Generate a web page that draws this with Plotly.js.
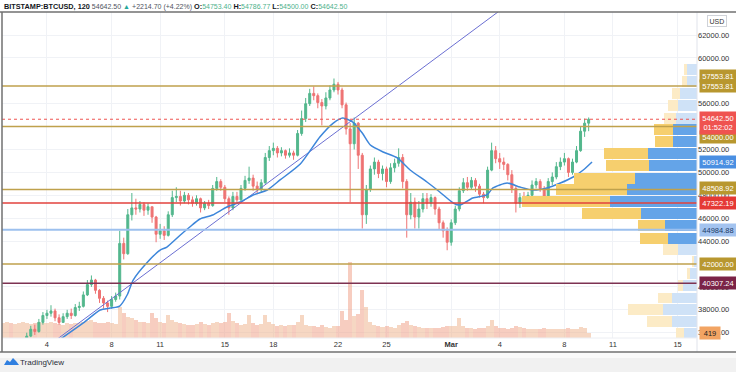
<!DOCTYPE html>
<html><head><meta charset="utf-8">
<script src="https://cdn.plot.ly/plotly-3.0.1.min.js"></script>
<style>html,body{margin:0;padding:0;background:#fff}#chart{width:736px;height:372px}</style>
</head><body><div id="chart"></div>
<script>
// ---------------- DATA ----------------
const symbol = 'BITSTAMP:BTCUSD, 120';
const lastPriceText = '54642.50';
const changeText = '+2214.70 (+4.22%)';
const ohlcLabels = ['O:', 'H:', 'L:', 'C:'];
const ohlcValues = ['54753.40', '54786.77', '54500.00', '54642.50'];
const countdownText = '01:52:02';
const currencyText = 'USD';

// 6-hour candles starting 2021-02-01 06:00 UTC
const candleStart = '2021-02-01T06:00:00Z';
const candleStepHours = 6;
const firstOpen = 33400;
const closes = [33600,33900,33700,34100,34600,35200,35700,36300,36100,36900,37500,
37700,37900,37300,36900,37400,37700,37500,38200,
38300,39300,40200,40600,39700,39000,38600,38300,
38900,39200,43800,42900,46300,46900,46800,47200,
46700,47000,46100,44600,44900,44500,46300,47800,
47900,47500,48000,47600,47300,47700,46900,47300,
47100,48600,49200,48700,47700,46900,47900,47600,
48600,49300,49500,48800,48500,49100,51300,51900,
52100,51700,51900,51500,51700,51500,53400,54700,
56000,56900,56700,56100,55800,56500,57200,57700,
57200,55900,53800,52500,54300,51500,46300,48500,
50300,50900,49900,50300,49200,50400,50800,51300,
49200,46300,47400,46100,46800,47700,47300,47800,
46800,45600,44900,43900,45600,46800,48400,49100,
48700,49300,48800,48100,47800,50200,51900,51200,
50900,50700,49800,48600,47300,47800,47500,48000,
48900,49200,48600,47900,49200,49600,50500,50900,
51200,50000,50900,51900,53600,54300,54642.5];
const highs = [34100,34300,34200,34400,34900,35500,36000,36600,36700,37200,37800,
38000,38400,38100,37600,37700,38000,38100,38500,
38700,39600,40600,41000,40700,39800,39200,38800,
39200,39500,44900,44300,46800,48200,47700,47500,
47400,47300,47000,46200,45500,45300,46600,48400,
48700,48400,48300,48200,47900,48000,47800,47500,
47600,48900,49600,49400,48900,47900,48300,48300,
48900,49700,50500,49800,49200,49400,51700,52300,
52600,52300,52200,52000,52100,51900,53700,55400,
56500,57300,57500,56900,56400,57000,57600,58200,
57900,57400,56100,54300,54800,54400,51700,48900,
50600,51300,51100,50600,50500,50800,51200,52100,
51600,49400,48200,47800,47500,48200,48200,48100,
47900,47000,45800,45200,45900,47100,48700,49500,
49600,49600,49500,49000,48300,50500,52600,52300,
51700,51300,50800,50200,48800,48200,48300,48300,
49300,49500,49400,48800,49500,50000,50900,51300,
51700,51300,51200,52300,54000,54700,54800];
const lows = [33200,33400,33300,33500,33900,34500,35100,35600,35800,36000,36700,
37200,37400,37000,36700,36900,37200,37200,37400,
37900,38200,39200,40000,39400,38600,38100,37800,
38100,38700,38900,42400,42800,45800,46300,46500,
46200,46300,45600,43900,44200,44100,44400,46100,
47400,47100,47300,47200,47000,47100,46500,46700,
46800,47000,48400,48400,47400,46300,46700,47300,
47500,48400,49000,48400,48100,48200,49000,51000,
51500,51300,51400,51200,51300,51100,51400,53200,
54400,55800,56300,55600,54100,55500,56300,57000,
56800,55600,53300,47400,52000,50300,45100,45500,
48300,49800,49500,49300,48700,49000,50000,50500,
48600,44300,45900,45100,45100,46500,46800,47000,
46300,45000,44300,43200,43600,45400,46600,48200,
48400,48500,48300,47800,47300,47700,50100,50800,
50300,50200,49300,48200,46500,46900,47100,47200,
47800,48600,48300,47200,47800,48900,49400,50200,
50600,49600,49800,50800,51800,53100,53600];
const volumes = [1250,1300,1200,1150,1250,1300,1200,1150,1250,1300,1200,
1250,1350,1200,1150,1100,1200,1150,1250,
1200,1350,1400,1500,1350,1200,1250,1300,
1200,1150,2550,2050,1700,1600,1450,1350,
1300,1250,2050,1600,1350,1250,1900,1500,
1300,1200,1150,1100,1050,1150,1300,1150,
1100,1250,1350,1200,1300,2050,1400,1200,
1100,1150,1900,1250,1100,1150,1900,1300,
1150,1000,1050,1000,1100,1050,1300,1900,
1100,1000,950,900,1100,900,850,950,
1000,2250,1500,6230,1800,2000,3940,2540,
1300,1100,950,900,1000,900,850,1100,
1200,1400,1100,950,900,850,800,800,
800,850,900,1000,950,1000,1640,1000,
850,800,750,800,850,1000,1480,1000,
850,800,750,850,950,900,800,750,
700,750,700,800,750,700,750,700,
750,800,700,750,900,800,419];

// moving average (blue line)
const maTimes = ['2021-02-04 09:00','2021-02-04 19:00','2021-02-06 06:00','2021-02-07 07:00','2021-02-07 22:00',
'2021-02-08 12:00','2021-02-08 23:00','2021-02-09 08:00','2021-02-10 04:00','2021-02-11 00:00',
'2021-02-11 10:00','2021-02-12 06:00','2021-02-12 20:00','2021-02-13 11:00','2021-02-14 06:00',
'2021-02-15 03:00','2021-02-15 23:00','2021-02-16 18:00','2021-02-17 15:00','2021-02-18 10:00',
'2021-02-19 16:00','2021-02-20 21:00','2021-02-21 17:00','2021-02-22 07:00','2021-02-22 22:00',
'2021-02-23 12:00','2021-02-24 00:00','2021-02-24 19:00','2021-02-25 16:00','2021-02-26 11:00',
'2021-02-27 12:00','2021-02-28 07:00','2021-03-01 03:00','2021-03-01 13:00','2021-03-02 08:00',
'2021-03-03 05:00','2021-03-03 14:00','2021-03-04 11:00','2021-03-05 06:00','2021-03-06 01:00',
'2021-03-06 22:00','2021-03-07 18:00','2021-03-08 13:00','2021-03-09 04:00','2021-03-09 17:00'];
const maValues = [35000,35400,36850,37980,38150,
38330,39290,40600,42090,43220,
43480,44530,45230,45930,46280,
46980,47410,48030,48460,49340,
50730,53090,54310,54750,54400,
53440,52390,51780,51260,50210,
49160,48290,47330,47150,47760,
48030,48640,49070,48720,48460,
48640,49070,49600,50210,50914.92];

// trend line anchors
const trendTimes = ['2021-02-04 00:00','2021-03-04 12:00'];
const trendPrices = [34773, 64650];

// horizontal levels
const levelValues = [57553.81, 54000, 48508.92, 42000, 47322.19, 44984.88, 40307.24];
const levelKinds  = ['gold','gold','gold','gold','red','lightblue','maroon'];

// volume profile (visible range)
const vpPrices = [35890,36940,37990,39030,40080,41130,42180,43230,44270,45320,46370,47420,
48470,49510,50560,51610,52660,53710,54750,55800,56850,57900,58950];
const vpUp   = [13,25,34,25,14,7,3,19,29,32,56,87,70,62,48,49,24,24,21,19,17,10,10];
const vpDown = [8,25,35,14,5,3,2,15,28,27,59,88,71,61,43,44,18,19,12,10,8,5,3];
const valueAreaLow = 43800, valueAreaHigh = 54200;

// price-scale ticks left visible (42000, 54000 and 58000 sit fully under coloured labels)
const priceTicks = [36000,38000,40000,44000,46000,48000,50000,52000,56000,60000,62000];
const timeTickVals = ['2021-02-04','2021-02-08','2021-02-11','2021-02-15','2021-02-18','2021-02-22',
'2021-02-25','2021-03-01','2021-03-04','2021-03-08','2021-03-11','2021-03-15'];
const timeTickText = ['4','8','11','15','18','22','25','<b>Mar</b>','4','8','11','15'];

// ---------------- DRAWING ----------------
const W=736, H=372, ML=2, MR=39, MT=12, MB=34;
const plotW = W-ML-MR, plotH = H-MT-MB;
const px2x = px => (px-ML)/plotW;
const py2y = py => (H-MB-py)/plotH;

const t0 = Date.parse(candleStart);
const candleTimes = closes.map((_, i) => new Date(t0 + i*candleStepHours*3600e3).toISOString().slice(0,16).replace('T',' '));
const opens = [firstOpen].concat(closes.slice(0, -1));

const GREEN = '#53b78d', RED = '#ee7373';
const FONT = 'Liberation Sans, Arial, sans-serif';

const volColors = closes.map((c,i) => c >= opens[i] ? 'rgba(238,176,135,0.5)' : 'rgba(240,155,130,0.5)');

const traces = [
  { type:'bar', x:candleTimes, y:volumes, xaxis:'x', yaxis:'y',
    marker:{color:volColors, line:{width:0}}, hoverinfo:'skip' },
  { type:'bar', orientation:'h', y:vpPrices, x:vpUp, xaxis:'x2', yaxis:'y2', width:960,
    marker:{color:vpPrices.map(p => (p>valueAreaLow && p<valueAreaHigh) ? '#64a4e8' : '#cfe2f7'), line:{width:0}}, hoverinfo:'skip' },
  { type:'bar', orientation:'h', y:vpPrices, x:vpDown, xaxis:'x2', yaxis:'y2', width:960,
    marker:{color:vpPrices.map(p => (p>valueAreaLow && p<valueAreaHigh) ? '#f6cf6e' : '#fcebc6'), line:{width:0}}, hoverinfo:'skip' },
  { type:'scatter', mode:'lines', x:trendTimes, y:trendPrices, xaxis:'x', yaxis:'y2',
    line:{color:'#6b6fd2', width:1}, hoverinfo:'skip' },
  { type:'scatter', mode:'lines', x:maTimes, y:maValues, xaxis:'x', yaxis:'y2',
    line:{color:'#3d86da', width:1.5, shape:'spline', smoothing:0.6}, hoverinfo:'skip' },
  { type:'candlestick', x:candleTimes, open:opens, high:highs, low:lows, close:closes, xaxis:'x', yaxis:'y2',
    increasing:{line:{color:GREEN, width:1}, fillcolor:GREEN},
    decreasing:{line:{color:RED, width:1}, fillcolor:RED},
    whiskerwidth:0, hoverinfo:'skip' }
];

const levelStyle = {
  gold:{color:'#bfa14c', width:1.5},
  red:{color:'#e2423c', width:1.5},
  lightblue:{color:'#9cc0ee', width:2},
  maroon:{color:'#7d3252', width:1.5}
};
const shapes = [];
shapes.push({type:'rect', xref:'paper', yref:'paper', x0:px2x(0), x1:px2x(736), y0:py2y(372), y1:py2y(353),
  fillcolor:'#f1f1f1', line:{width:0}, layer:'below'});
shapes.push({type:'rect', xref:'paper', yref:'paper', x0:px2x(0), x1:px2x(736), y0:py2y(358), y1:py2y(353),
  fillcolor:'#fafafa', line:{width:0}, layer:'below'});
levelValues.forEach((v,i) => {
  shapes.push({type:'line', xref:'paper', yref:'y2', x0:0, x1:1, y0:v, y1:v, line:levelStyle[levelKinds[i]], layer:'above'});
});
shapes.push({type:'line', xref:'paper', yref:'y2', x0:0, x1:1, y0:closes[closes.length-1], y1:closes[closes.length-1],
  line:{color:'#ef5350', width:1, dash:'dot'}, layer:'above'});
shapes.push({type:'line', xref:'paper', yref:'paper', x0:px2x(697), x1:px2x(697), y0:py2y(12), y1:py2y(352), line:{color:'#e0e3eb', width:1}});
shapes.push({type:'line', xref:'paper', yref:'paper', x0:px2x(2), x1:px2x(697), y0:py2y(338), y1:py2y(338), line:{color:'#eceef3', width:1}});
shapes.push({type:'line', xref:'paper', yref:'paper', x0:px2x(0), x1:px2x(736), y0:py2y(12), y1:py2y(12), line:{color:'#707070', width:1.5}});
shapes.push({type:'line', xref:'paper', yref:'paper', x0:px2x(0), x1:px2x(736), y0:py2y(352), y1:py2y(352), line:{color:'#707070', width:1.5}});
shapes.push({type:'line', xref:'paper', yref:'paper', x0:px2x(2), x1:px2x(2), y0:py2y(12), y1:py2y(352), line:{color:'#707070', width:1.5}});
shapes.push({type:'path', xref:'paper', yref:'paper', xsizemode:'pixel', ysizemode:'pixel',
  xanchor:px2x(4), yanchor:py2y(362),
  path:'M 0 -3 L 3 2 L 6 0 L 9 4 L 12 1 L 15 -3 Z', fillcolor:'#2f7fe0', line:{width:0}});

const labelX = px2x(698.5);
function priceLabel(yval, yref, text, bg, fg, yshift, w) {
  return {xref:'paper', x:labelX, xanchor:'left', yref:yref, y:yval, yanchor:'middle', yshift:yshift||0,
    text:text, showarrow:false, bgcolor:bg, borderpad:1.5, width:w||33, align:'center',
    font:{family:FONT, size:7.5, color:fg}};
}
const last = closes[closes.length-1];
const header = '<b>' + symbol + '</b> <span style="color:#50535e;font-size:7px">' + lastPriceText + '</span> '
  + '<span style="color:#26a69a;font-size:7px">▲</span> <span style="color:#50535e;font-size:7px">' + changeText + '</span> '
  + ohlcLabels.map((l,i) => '<b>' + l + '</b><span style="color:#4fb28c;font-size:7px">' + ohlcValues[i] + '</span>').join(' ');

const annotations = [
  {xref:'paper', yref:'paper', x:px2x(2), y:py2y(6), xanchor:'left', yanchor:'middle', showarrow:false,
   text:header, font:{family:FONT, size:7.3, color:'#131722'}},
  {xref:'paper', yref:'paper', x:px2x(717), y:py2y(21), xanchor:'center', yanchor:'middle', showarrow:false,
   text:currencyText, bgcolor:'#ffffff', bordercolor:'#cfd2d8', borderwidth:1, borderpad:1.5,
   font:{family:FONT, size:7, color:'#333'}},
  priceLabel(levelValues[0], 'y2', levelValues[0].toFixed(2), '#b8972f', '#ffffff', 10),
  priceLabel(levelValues[0], 'y2', levelValues[0].toFixed(2), '#b8972f', '#ffffff', 0),
  priceLabel(levelValues[1], 'y2', levelValues[1].toFixed(2), '#b8972f', '#ffffff', -10),
  priceLabel(last, 'y2', last.toFixed(2) + '<br>' + countdownText, '#ef5350', '#ffffff', -3.5),
  priceLabel(maValues[maValues.length-1], 'y2', maValues[maValues.length-1].toFixed(2), '#4a8fe2', '#ffffff', 0),
  priceLabel(levelValues[2], 'y2', levelValues[2].toFixed(2), '#b8972f', '#ffffff', 1),
  priceLabel(levelValues[4], 'y2', levelValues[4].toFixed(2), '#e53935', '#ffffff', 0),
  priceLabel(levelValues[5], 'y2', levelValues[5].toFixed(2), '#a3c3ef', '#1d3b66', 0),
  priceLabel(levelValues[3], 'y2', levelValues[3].toFixed(2), '#b8972f', '#ffffff', 0),
  priceLabel(levelValues[6], 'y2', levelValues[6].toFixed(2), '#7b2347', '#ffffff', 0),
  priceLabel(volumes[volumes.length-1], 'y', String(volumes[volumes.length-1]), '#f2a463', '#222', 0, 17),
  {xref:'paper', yref:'paper', x:px2x(18), y:py2y(362), xanchor:'left', yanchor:'middle', showarrow:false,
   text:'TradingView', font:{family:FONT, size:8, color:'#2a2e39'}}
];

const layout = {
  width:W, height:H, margin:{l:ML, r:MR, t:MT, b:MB, pad:0},
  paper_bgcolor:'#ffffff', plot_bgcolor:'#ffffff',
  showlegend:false, hovermode:false, barmode:'stack', bargap:0,
  xaxis:{type:'date', range:['2021-02-01 05:17','2021-03-16 04:48'], tickmode:'array',
    tickvals:timeTickVals, ticktext:timeTickText, showgrid:true, gridcolor:'#f0f2f6', gridwidth:1,
    zeroline:false, showline:false, ticks:'', tickfont:{family:FONT, size:7.5, color:'#333'},
    rangeslider:{visible:false}, fixedrange:true},
  xaxis2:{overlaying:'x', range:[plotW, 0], visible:false, fixedrange:true, side:'top'},
  yaxis:{range:[0, 26700], visible:false, showgrid:false, fixedrange:true},
  yaxis2:{overlaying:'y', side:'right', range:[35536, 64009], tickmode:'array', tickvals:priceTicks,
    ticktext:priceTicks.map(v => v.toFixed(2)), showgrid:true, gridcolor:'#f0f2f6', zeroline:false,
    showline:false, ticks:'', tickfont:{family:FONT, size:7.5, color:'#333'}, fixedrange:true},
  shapes:shapes, annotations:annotations
};

Plotly.newPlot('chart', traces, layout, {staticPlot:true, displayModeBar:false});
</script></body></html>
